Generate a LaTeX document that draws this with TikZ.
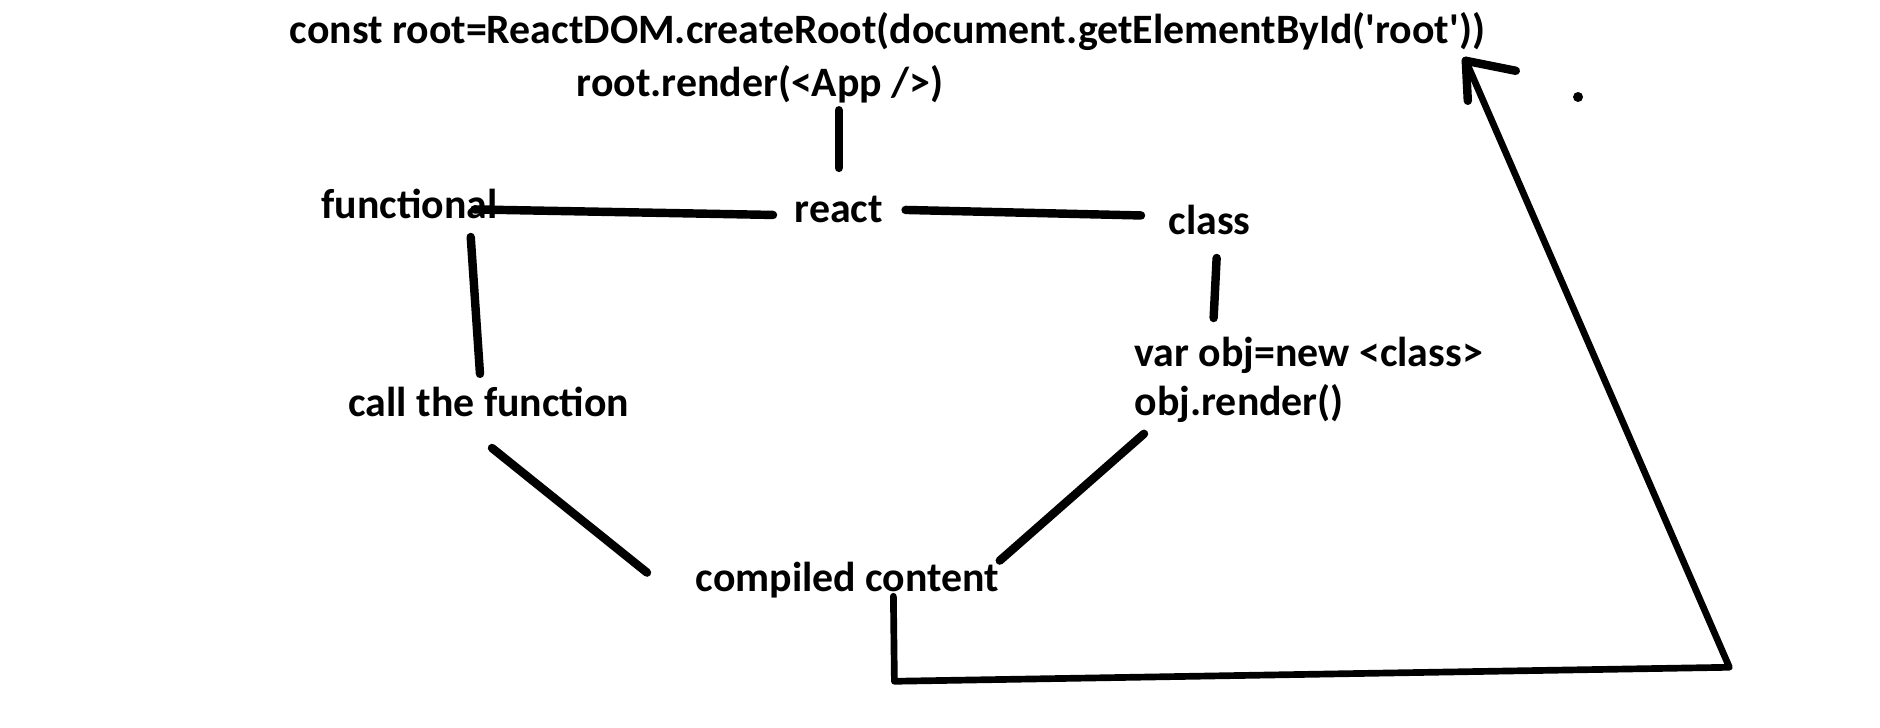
\documentclass[tikz,border=0pt]{standalone}
\usepackage{fontspec}
\setmainfont{Carlito}
\usetikzlibrary{calc,positioning}
\tikzset{%
	word/.style     = {font=\bfseries\fontsize{11.9}{14.2}\selectfont, inner sep=0pt, anchor=base west, align=left}, % Text
	link/.style     = {line width=2.4pt, line cap=round, line join=round}, % Stroke
	back/.style     = {line width=1.9pt, line cap=round, line join=round}, % Return stroke
}
\begin{document}
\begin{tikzpicture}[x=0.01cm,y=-0.01cm]
	\useasboundingbox (0,0) rectangle (1880,728);
	\node[word] (root) at (289,44) {const root=ReactDOM.createRoot(document.getElementById(\textquotesingle root\textquotesingle))};
	\node[word] (render) at (576,97) {root.render(<App />)};
	\node[word] (fun) at (321,219) {functional};
	\node[word] (react) at (794,223) {react};
	\node[word] (cls) at (1168,235) {class};
	\node[word] (obj) at (1134,416) {var obj=new <class>\\obj.render()};
	\node[word] (call) at (348,417) {call the function};
	\node[word] (comp) at (695,591) {compiled content};
	\draw[link] ($(react.north |- render.south)+(0,6)$) -- ($(react.north)+(0,-28)$);
	\draw[link] ($(fun.east)+(-24,5)$) -- ($(react.west)+(-21,5)$);
	\draw[link] ($(react.east)+(22,0)$) -- ($(cls.west)+(-27,-5)$);
	\draw[link] ($(fun.south)+(61,17)$) -- ($(call.north)+(-9,-13)$);
	\draw[link] ($(cls.south)+(7,22)$) -- ($(cls.south |- obj.north)+(4,-18)$);
	\draw[link] ($(call.south)+(3,30)$) -- ($(comp.west)+(-48,-7)$);
	\draw[link] ($(obj.south west)+(10,10)$) -- ($(comp.east)+(0,-19)$);
	\coordinate (tip) at ($(root.south east)+(-20,9)$);
	\draw[back] ($(comp.south)+(46,-2)$) -- ++(1,85) -- ++(835,-14) -- (tip);
	\draw[link] (tip) -- ++(2,40);
	\draw[link] (tip) -- ++(50,10);
	\fill (1578,97) circle (5);
	\end{tikzpicture}
\end{document}
